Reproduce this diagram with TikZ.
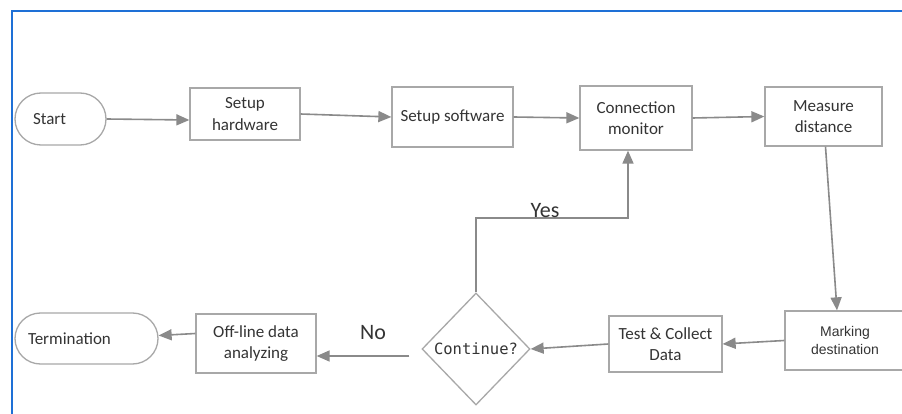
\documentclass[tikz,border=0pt]{standalone}
\usepackage{fontspec}
\setmainfont{Carlito}
\newfontfamily\monofont{DejaVu Sans Mono}
\newfontfamily\arialfont{Liberation Sans}
\usetikzlibrary{arrows.meta,shapes.geometric}

\definecolor{frameblue}{RGB}{30,112,214}
\definecolor{boxline}{RGB}{168,168,168}
\definecolor{flowline}{RGB}{138,138,138}
\definecolor{inktext}{RGB}{52,52,52}

\tikzset{
  x=1pt, y=-1pt,
  boxtext/.style={font=\fontsize{17}{21.5}\selectfont, text=inktext},
  stepbox/.style={boxtext, draw=boxline, line width=1.3pt, fill=white,
    rectangle, align=center, inner sep=0pt},
  terminal/.style={boxtext, draw=boxline, line width=1.3pt, fill=white,
    rectangle, align=left, inner ysep=0pt},
  decision/.style={draw=boxline, line width=1.3pt, fill=white, diamond,
    inner sep=0pt, text=inktext, font=\monofont\fontsize{15.5}{18}\selectfont},
  flow/.style={draw=flowline, line width=1.6pt,
    -{Triangle[length=13pt,width=11pt]}},
  branch/.style={font=\fontsize{22}{24}\selectfont, text=inktext}
}

\begin{document}
\begin{tikzpicture}
  \clip (0,0) rectangle (902,414);
  \fill[white] (0,0) rectangle (902,414);

  % outer frame (top and left edges only)
  \draw[frameblue, line width=2pt] (12,414) -- (12,11) -- (902,11);

  % top row
  \node[terminal, rounded corners=26pt, minimum height=52pt,
        text width=55pt, inner xsep=18pt] (start) at (60.5,119) {Start};
  \node[stepbox, minimum width=110pt, minimum height=52pt] (hw) at (245,114) {Setup\\hardware};
  \node[stepbox, minimum width=121pt, minimum height=60pt] (sw) at (452.5,117) {Setup software};
  \node[stepbox, minimum width=112pt, minimum height=64pt] (cm) at (636,118) {Connection\\monitor};
  \node[stepbox, minimum width=117pt, minimum height=59pt] (ms) at (823.5,116.5) {Measure\\distance};

  % bottom row
  \node[stepbox, minimum width=120pt, minimum height=59pt,
        font=\arialfont\fontsize{14}{17.5}\selectfont] (mk) at (845,340.5) {Marking\\destination};
  \node[stepbox, minimum width=113pt, minimum height=56pt] (tc) at (665.5,344) {Test \& Collect\\Data};
  \node[decision, minimum width=108pt, minimum height=112pt] (cont) at (476,349) {Continue?};
  \node[stepbox, minimum width=120pt, minimum height=59pt] (off) at (256,343.5) {Off-line data\\analyzing};
  \node[terminal, rounded corners=25.5pt, minimum height=51pt,
        text width=117pt, inner xsep=13pt] (term) at (86.5,338.5) {Termination};

  % connectors (shifts are in canvas direction: positive yshift is upward)
  \draw[flow] (start.east) -- ([yshift=-6pt]hw.west);
  \draw[flow] (hw.east) -- (sw.west);
  \draw[flow] (sw.east) -- (cm.west);
  \draw[flow] (cm.east) -- (ms.west);
  \draw[flow] ([xshift=2pt]ms.south) -- ([xshift=-8pt]mk.north);
  \draw[flow] (mk.west) -- (tc.east);
  \draw[flow] (tc.west) -- (cont.east);

  \coordinate (yesbend) at (628,218);
  \draw[flow] (cont.north) |- (yesbend) -- ([xshift=-8pt]cm.south);
  \node[branch, anchor=base] (yeslbl) at (545,218) {Yes};

  \coordinate (nostart) at ([xshift=-12pt,yshift=-7pt]cont.west);
  \draw[flow] (nostart) -- (nostart -| off.east);
  \node[branch, anchor=base] (nolbl) at (373,339) {No};

  \draw[flow] ([yshift=10pt]off.west) -- ([yshift=3pt]term.east);
\end{tikzpicture}
\end{document}
